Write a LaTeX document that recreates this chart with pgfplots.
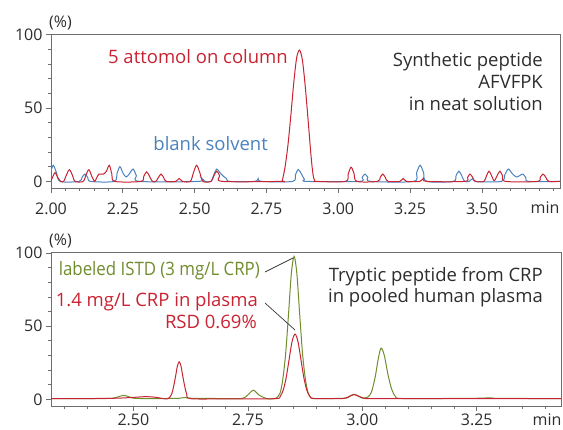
\documentclass[border=0pt]{standalone}
\usepackage{fontspec}
\setmainfont{Open Sans}
\newfontfamily\narrowfont{Open Sans}[FakeStretch=0.91]
\usepackage{pgfplots}
\pgfplotsset{compat=1.18}
\definecolor{cred}{RGB}{200,35,50}
\definecolor{cblue}{RGB}{74,130,190}
\definecolor{cgreen}{RGB}{112,140,45}
\definecolor{textgray}{RGB}{45,45,45}
\definecolor{axisgray}{RGB}{110,110,110}
\begin{document}
\begin{tikzpicture}[x=1pt,y=1pt]
\useasboundingbox (0,0) rectangle (563,-429);
\pgfplotsset{
 chrom/.style={
  scale only axis, width=509pt, height=154pt,
  axis line style={draw=axisgray, line width=0.8pt},
  tick style={draw=axisgray, line width=0.7pt},
  tick align=outside, tick pos=left,
  major tick length=5pt, minor tick length=3pt,
  ytick={0,50,100}, minor ytick={10,20,30,40,60,70,80,90},
  ticklabel style={font=\fontsize{16}{19}\selectfont, text=textgray},
  /pgf/number format/assume math mode=true,
  xticklabel style={/pgf/number format/fixed,/pgf/number format/fixed zerofill,/pgf/number format/precision=2},
  yticklabel style={/pgf/number format/fixed},
  every axis plot/.append style={line width=1pt, smooth, tension=0.5},
 }}
\begin{axis}[chrom, at={(51pt,-188pt)}, anchor=south west,
  xmin=2.0, xmax=3.772, ymin=-4.5, ymax=100.5,
  xticklabel style={yshift=-6pt},
  xtick={2.00,2.25,2.50,2.75,3.00,3.25,3.50},
  minor xtick={2.05,2.10,2.15,2.20,2.30,2.35,2.40,2.45,2.55,2.60,2.65,2.70,2.80,2.85,2.90,2.95,3.05,3.10,3.15,3.20,3.30,3.35,3.40,3.45,3.55,3.60,3.65,3.70,3.75}]
\addplot[cblue] coordinates {
(2.000,7) (2.008,11) (2.019,6) (2.032,0)
(2.098,0) (2.108,2.7) (2.118,5) (2.128,2.7) (2.138,0)
(2.220,0) (2.230,5.5) (2.240,10) (2.251,5.5) (2.262,3) (2.274,5.5) (2.286,8.4) (2.297,4) (2.308,0)
(2.513,0) (2.525,2) (2.537,0)
(2.557,0) (2.567,4.6) (2.577,8.4) (2.588,6) (2.600,3.5) (2.611,2) (2.622,0)
(2.709,0) (2.721,2) (2.733,0)
(2.841,0) (2.851,4.5) (2.861,8.1) (2.872,5) (2.882,1.5) (2.891,0)
(3.073,0) (3.083,2.7) (3.093,5) (3.103,2.7) (3.113,0)
(3.262,0) (3.273,6) (3.285,11) (3.297,6) (3.308,0)
(3.400,0) (3.410,3.8) (3.420,7) (3.430,3.8) (3.440,0)
(3.456,0) (3.468,2) (3.480,0)
(3.568,0) (3.580,4.6) (3.592,8.4) (3.605,5.5) (3.620,3) (3.632,4) (3.643,5) (3.653,2.5) (3.663,0)
(3.772,0)};
\addplot[cred] coordinates {
(2.000,0.5) (2.006,3) (2.014,6) (2.024,2.5) (2.034,0)
(2.044,0) (2.054,4.5) (2.064,8) (2.074,4.5) (2.084,0)
(2.112,0) (2.122,4.5) (2.132,8) (2.143,3) (2.152,0)
(2.158,2) (2.167,5) (2.183,5) (2.193,7) (2.203,11) (2.212,5) (2.222,0)
(2.313,0) (2.323,3.5) (2.333,6.5) (2.343,3.5) (2.353,0)
(2.365,0) (2.374,2.7) (2.383,5) (2.392,2.7) (2.401,0)
(2.434,0) (2.446,2) (2.458,0)
(2.485,0) (2.496,6) (2.507,11) (2.518,6) (2.529,0)
(2.557,0) (2.567,3.8) (2.577,7) (2.587,3.8) (2.597,0)
(2.800,0) (2.805,0.5) (2.815,10) (2.825,25) (2.835,45) (2.845,67) (2.855,84) (2.865,89.5) (2.875,83) (2.885,65) (2.895,42) (2.905,18) (2.912,5) (2.918,0.5) (2.925,0)
(3.025,0) (3.035,5.3) (3.045,9.7) (3.055,5.3) (3.065,0)
(3.137,0) (3.146,2.7) (3.155,5) (3.164,2.7) (3.173,0)
(3.214,0) (3.226,2) (3.238,0)
(3.284,0) (3.296,2) (3.308,0)
(3.441,0) (3.450,2.7) (3.459,5) (3.468,2.7) (3.477,0)
(3.507,0) (3.516,3.8) (3.525,7) (3.534,3.8) (3.543,0.5) (3.553,3.8) (3.563,7) (3.572,3.8) (3.582,0)
(3.693,0) (3.703,2.7) (3.713,5) (3.723,2.7) (3.733,0)
(3.772,0)};
\end{axis}
\begin{axis}[chrom, width=510pt, at={(51pt,-406pt)}, anchor=south west,
  xmin=2.320, xmax=3.434, ymin=-4.6, ymax=100.7,
  xticklabel style={inner sep=0pt, yshift=-2.5pt},
  xtick={2.50,2.75,3.00,3.25},
  minor xtick={2.35,2.40,2.45,2.55,2.60,2.65,2.70,2.80,2.85,2.90,2.95,3.05,3.10,3.15,3.20,3.30,3.35,3.40}]
\addplot[cgreen] coordinates {
(2.320,0.5) (2.400,0.5) (2.450,0.6) (2.465,1.5) (2.479,2.7) (2.492,1.5) (2.505,0.6) (2.560,0.5) (2.600,0.7) (2.613,1.2) (2.626,0.7) (2.700,0.5) (2.738,0.6) (2.750,3) (2.762,6.2) (2.774,3) (2.790,0.6) (2.810,0.5)
(2.820,4) (2.826,13) (2.8325,31) (2.839,59) (2.845,86) (2.851,97.7) (2.857,86) (2.863,59) (2.8695,31) (2.876,13) (2.882,4) (2.888,1) (2.900,0.5)
(2.930,0.5) (2.965,0.8) (2.972,2) (2.982,3.4) (2.992,2) (3.000,0.8) (3.012,1.5) (3.020,5) (3.028,15) (3.035,28) (3.041,35) (3.048,30) (3.056,17) (3.064,7) (3.072,2) (3.082,0.6)
(3.150,0.5) (3.250,0.7) (3.280,1) (3.300,0.6) (3.434,0.5)};
\addplot[cred] coordinates {
(2.320,0.4) (2.360,0.5) (2.400,0.5) (2.440,0.6) (2.470,0.8) (2.500,1.3) (2.529,1.8) (2.550,1.3) (2.565,0.5) (2.576,0.4)
(2.5835,3.5) (2.5875,8.3) (2.592,15.5) (2.596,22.6) (2.600,25.6) (2.604,22.6) (2.608,15.5) (2.6125,8.3) (2.6165,3.5) (2.625,0.4)
(2.700,0.3) (2.760,0.3) (2.814,0.5) (2.8205,2) (2.827,6) (2.8335,14.5) (2.840,27) (2.8465,39.4) (2.853,44.6) (2.8595,39.4) (2.866,27) (2.8725,14.5) (2.879,6) (2.8855,2) (2.892,0.5)
(2.930,0.4) (2.960,0.6) (2.972,2) (2.982,3.2) (2.993,2) (3.005,0.6) (3.030,0.4) (3.200,0.4) (3.434,0.4)};
\end{axis}
\def\tf{\fontsize{18.5}{22}\selectfont}
\node[anchor=base west, text=textgray, font=\fontsize{16}{19}\selectfont, inner sep=0] at (49,-27) {(\%)};
\node[anchor=base west, text=textgray, font=\fontsize{16}{19}\selectfont, inner sep=0] at (49,-245) {(\%)};
\node[anchor=base east, text=cred, font=\tf, inner sep=0] at (288,-63) {5 attomol on column};
\node[anchor=base east, text=cblue, font=\tf, inner sep=0] at (268,-150) {blank solvent};
\node[anchor=base east, text=textgray, font=\tf, inner sep=0] at (543,-66) {Synthetic peptide};
\node[anchor=base east, text=textgray, font=\tf, inner sep=0] at (543,-88) {AFVFPK};
\node[anchor=base east, text=textgray, font=\tf, inner sep=0] at (543,-110.5) {in neat solution};
\node[anchor=base east, text=cgreen, font=\narrowfont\tf, inner sep=0] at (260,-275) {labeled ISTD (3 mg/L CRP)};
\node[anchor=base east, text=cred, font=\tf, inner sep=0] at (258,-306.5) {1.4 mg/L CRP in plasma};
\node[anchor=base east, text=cred, font=\tf, inner sep=0] at (257,-328) {RSD 0.69\%};
\node[anchor=base east, text=textgray, font=\tf, inner sep=0] at (543,-281.5) {Tryptic peptide from CRP};
\node[anchor=base east, text=textgray, font=\tf, inner sep=0] at (543,-302.5) {in pooled human plasma};
\node[anchor=base, text=textgray, font=\fontsize{16}{19}\selectfont, inner sep=0] at (545,-213.3) {min};
\node[anchor=base, text=textgray, font=\fontsize{16}{19}\selectfont, inner sep=0] at (547,-425) {min};
\draw[black!80, line width=0.7pt] (265,-272) -- (293,-258);
\draw[black!80, line width=0.7pt] (265,-303) -- (295,-330);
\end{tikzpicture}
\end{document}
